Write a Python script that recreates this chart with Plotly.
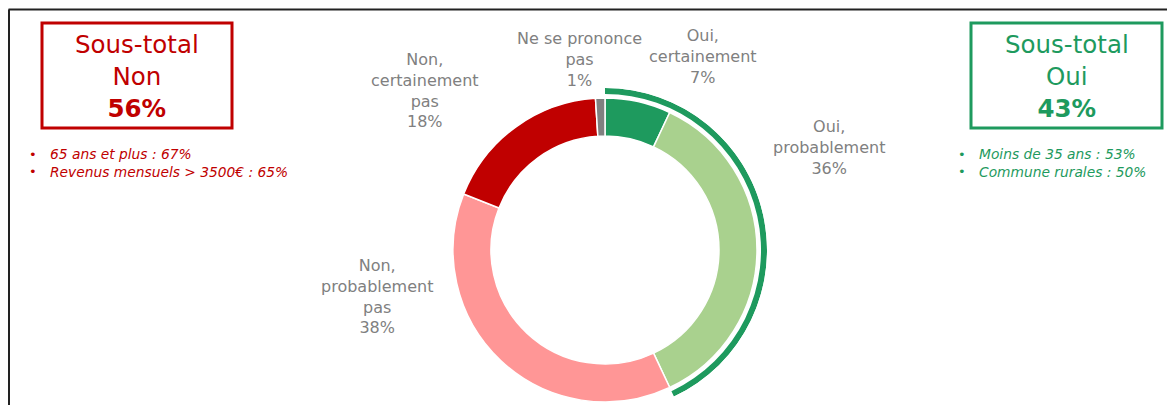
import plotly.graph_objects as go

# The page body has an 8px margin, so the figure is drawn from (8, 8).
OFF = 8
W, H = 1175 - OFF, 405 - OFF

# ---- data ----
slice_labels = ["Oui, certainement", "Oui, probablement", "Non, probablement pas",
                "Non, certainement pas", "Ne se prononce pas"]
slice_values = [7, 36, 38, 18, 1]
label_texts = ["Oui,<br>certainement<br>7%", "Oui,<br>probablement<br>36%",
               "Non,<br>probablement<br>pas<br>38%", "Non,<br>certainement<br>pas<br>18%",
               "Ne se prononce<br>pas<br>1%"]
oui_total = 43
non_total = 56
non_details = ["65 ans et plus : 67%", "Revenus mensuels > 3500€ : 65%"]
oui_details = ["Moins de 35 ans : 53%", "Commune rurales : 50%"]

# ---- styles / layout ----
colors = ["#1E9A5E", "#A9D18E", "#FF9696", "#C00000", "#808080"]
GREEN = "#1E9A5E"
RED = "#C00000"
GREY = "#808080"
FONT = "DejaVu Sans"
label_pos = [(703, 56.5), (829, 148), (377, 296), (425, 90.5), (579, 59.5)]

def px(x):
    return (x - OFF) / W

def py(y):
    return 1 - (y - OFF) / H

cx, cy, R = 605, 250, 152
fig = go.Figure()
fig.add_trace(go.Pie(
    labels=slice_labels, values=slice_values, sort=False, direction="clockwise",
    rotation=0, hole=0.75, textinfo="none", hoverinfo="skip", showlegend=False,
    marker=dict(colors=colors, line=dict(color="white", width=1.5)),
    domain=dict(x=[px(cx - R), px(cx + R)], y=[py(cy + R), py(cy - R)]),
))

# outer arc for the "Oui" subtotal
Ra = 162
arc_in, arc_w = 156, 6
sin70 = 0.9396926
fig.add_trace(go.Barpolar(
    r=[arc_w], base=[arc_in], theta=[oui_total * 3.6 / 2], width=[oui_total * 3.6],
    marker=dict(color=GREEN, line=dict(width=0)), hoverinfo="skip", showlegend=False,
))
fig.update_layout(polar=dict(
    domain=dict(x=[px(cx), px(cx + Ra)], y=[py(cy + sin70 * Ra), py(cy - Ra)]),
    sector=[-70, 90], bgcolor="rgba(0,0,0,0)",
    angularaxis=dict(rotation=90, direction="clockwise", visible=False, showgrid=False),
    radialaxis=dict(range=[0, Ra], visible=False, showgrid=False),
))

annotations = []
for t, (x, y) in zip(label_texts, label_pos):
    annotations.append(dict(x=px(x), y=py(y), xref="paper", yref="paper", text=t,
                            showarrow=False, xanchor="center", yanchor="middle",
                            align="center", font=dict(family=FONT, size=16, color=GREY)))

# subtotal boxes
boxes = [(42, 232, RED, "Non", non_total, non_details, 33, 48),
         (971, 1162, GREEN, "Oui", oui_total, oui_details, 962, 977)]
shapes = []
for x0, x1, col, name, tot, details, bx, tx in boxes:
    shapes.append(dict(type="rect", xref="paper", yref="paper",
                       x0=px(x0), x1=px(x1), y0=py(128), y1=py(23),
                       line=dict(color=col, width=3), fillcolor="white"))
    annotations.append(dict(x=px((x0 + x1) / 2), y=py(76), xref="paper", yref="paper",
                            text=f"Sous-total<br>{name}<br><b>{tot}%</b>",
                            showarrow=False, xanchor="center", yanchor="middle",
                            align="center", font=dict(family=FONT, size=24.5, color=col)))
    annotations.append(dict(x=px(bx), y=py(163.5), xref="paper", yref="paper",
                            text="<br>".join(["•"] * len(details)),
                            showarrow=False, xanchor="center", yanchor="middle",
                            align="center", font=dict(family=FONT, size=13, color=col)))
    annotations.append(dict(x=px(tx), y=py(163.5), xref="paper", yref="paper",
                            text="<br>".join(details),
                            showarrow=False, xanchor="left", yanchor="middle",
                            align="left", font=dict(family=FONT, size=13.8, color=col,
                                                    style="italic")))

# frame lines
shapes.append(dict(type="line", xref="paper", yref="paper", x0=px(8.5), x1=1,
                   y0=py(9.5), y1=py(9.5), line=dict(color="#222222", width=2)))
shapes.append(dict(type="line", xref="paper", yref="paper", x0=px(9), x1=px(9),
                   y0=0, y1=py(9.5), line=dict(color="#222222", width=2)))

fig.update_layout(width=W, height=H, margin=dict(l=0, r=0, t=0, b=0),
                  paper_bgcolor="white", plot_bgcolor="white",
                  annotations=annotations, shapes=shapes, showlegend=False)

fig.write_html("out.html")
